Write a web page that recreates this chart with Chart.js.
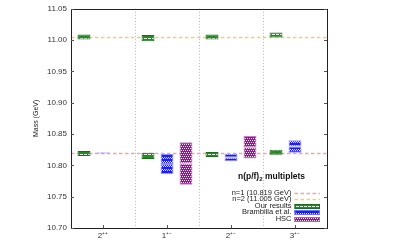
<!DOCTYPE html>
<html>
<head>
<meta charset="utf-8">
<script src="https://cdn.jsdelivr.net/npm/chart.js@4/dist/chart.umd.min.js"></script>
<style>
  html, body { margin: 0; padding: 0; background: #fff; }
  #wrap { width: 399px; height: 242px; }
</style>
</head>
<body>
<div id="wrap"><canvas id="massChart"></canvas></div>
<script>
// n(p/f)_2 multiplet masses (GeV): central value and half-width of each box
const categories = ["2⁺⁺", "1⁺⁻", "2⁺⁻", "3⁺⁻"];
const oursN1     = [10.819, 10.815, 10.8175, 10.821];
const oursN1Err  = [0.004, 0.005, 0.004, 0.004];
const oursN2     = [11.005, 11.003, 11.005, 11.008];
const oursN2Err  = [0.004, 0.005, 0.004, 0.004];
const brambilla    = [10.820, 10.802, 10.8125, 10.830];
const brambillaErr = [0.001, 0.016, 0.006, 0.010];
const hsc    = [null, 10.803, 10.829, null];
const hscErr = [null, 0.034, 0.018, null];
// spin-averaged reference masses (dashed lines)
const refMasses = [10.819, 11.005];
const refLabels = ["n=1 (10.819 GeV)", "n=2 (11.005 GeV)"];
const yTicks = [10.70, 10.75, 10.80, 10.85, 10.90, 10.95, 11.00, 11.05];

const FONT = "'Liberation Sans', Arial, sans-serif";
const GREEN = "#228b22", BLUE = "#1e1ef0", PURPLE = "#8b1a8b";
const REF_COLORS = ["#f4a3a3", "#f3cf6e"];

// small fill patterns (gnuplot-like hatching)
function makePattern(base, draw) {
  const c = document.createElement("canvas");
  c.width = 4; c.height = 4;
  const g = c.getContext("2d");
  g.fillStyle = base; g.fillRect(0, 0, 4, 4);
  g.fillStyle = "rgba(255,255,255,0.85)";
  draw(g);
  return g.createPattern(c, "repeat");
}
const cv = document.getElementById("massChart");
const greenFill = makePattern(GREEN, (g) => { g.fillRect(0, 2, 3, 1); });
const blueFill = makePattern(BLUE, (g) => {
  g.fillRect(0, 1, 1, 1); g.fillRect(1, 2, 1, 1); g.fillRect(2, 1, 1, 1); g.fillRect(3, 2, 1, 1);
});
const purpleFill = makePattern(PURPLE, (g) => {
  g.fillRect(0, 0, 1, 1); g.fillRect(2, 0, 1, 1); g.fillRect(1, 2, 1, 1); g.fillRect(3, 2, 1, 1);
});

// value ± error -> floating bar ranges
const fullBox = (v, e) => v.map((x, i) => (x === null ? null : [x - e[i], x + e[i]]));
const lowHalf = (v, e) => v.map((x, i) => (x === null ? null : [x - e[i], x]));
const highHalf = (v, e) => v.map((x, i) => (x === null ? null : [x, x + e[i]]));

function boxSet(data, stack, fill, border) {
  return {
    data: data, stack: stack,
    backgroundColor: fill, borderColor: border,
    borderWidth: 1, borderSkipped: false,
    categoryPercentage: 0.89, barPercentage: 0.68,
  };
}

const datasets = [
  boxSet(fullBox(oursN1, oursN1Err), "ours", greenFill, "#1b6d1b"),
  boxSet(fullBox(oursN2, oursN2Err), "ours", greenFill, "#1b6d1b"),
  boxSet(lowHalf(brambilla, brambillaErr), "bram", blueFill, "#8f8fff"),
  boxSet(highHalf(brambilla, brambillaErr), "bram", blueFill, "#8f8fff"),
  boxSet(lowHalf(hsc, hscErr), "hsc", purpleFill, "#c77ac7"),
  boxSet(highHalf(hsc, hscErr), "hsc", purpleFill, "#c77ac7"),
];

// legend entries (drawn inside the plot, right aligned like gnuplot)
const legendItems = [
  { text: refLabels[0], kind: "line", color: REF_COLORS[0] },
  { text: refLabels[1], kind: "line", color: REF_COLORS[1] },
  { text: "Our results", kind: "box", fill: greenFill, border: "#1b6d1b" },
  { text: "Brambilla et al.", kind: "box", fill: blueFill, border: "#6f6fff" },
  { text: "HSC", kind: "box", fill: purpleFill, border: "#b060b0" },
];

const decor = {
  id: "decor",
  beforeDatasetsDraw(chart) {
    const { ctx, chartArea: a, scales } = chart;
    ctx.save();
    ctx.lineWidth = 1.3;
    ctx.setLineDash([3.5, 2.5]);
    refMasses.forEach((m, i) => {
      const y = Math.round(scales.y.getPixelForValue(m)) + 0.5;
      ctx.strokeStyle = REF_COLORS[i];
      ctx.beginPath(); ctx.moveTo(a.left, y); ctx.lineTo(a.right, y); ctx.stroke();
    });
    ctx.restore();
  },
  afterDraw(chart) {
    const { ctx, chartArea: a, scales } = chart;
    ctx.save();
    // frame
    ctx.strokeStyle = "#222"; ctx.lineWidth = 1; ctx.setLineDash([]);
    ctx.strokeRect(Math.round(a.left) + 0.5, Math.round(a.top) + 0.5,
      Math.round(a.right - a.left), Math.round(a.bottom - a.top));
    // inward ticks
    ctx.strokeStyle = "#555";
    ctx.beginPath();
    yTicks.forEach((t) => {
      const y = Math.round(scales.y.getPixelForValue(t)) + 0.5;
      ctx.moveTo(a.left, y); ctx.lineTo(a.left + 3, y);
      ctx.moveTo(a.right, y); ctx.lineTo(a.right - 3, y);
    });
    categories.forEach((c, i) => {
      const x = Math.round(scales.x.getPixelForValue(i)) + 0.5;
      ctx.moveTo(x, a.bottom); ctx.lineTo(x, a.bottom - 3);
    });
    ctx.stroke();

    // legend
    const textRight = 291.5, sx0 = 294.5, sx1 = 320;
    ctx.fillStyle = "#111";
    ctx.textBaseline = "middle";
    ctx.textAlign = "left";
    const t1 = "n(p/f)", t2 = " multiplets";
    ctx.font = "bold 8.5px " + FONT;
    const w1 = ctx.measureText(t1).width;
    const w2 = ctx.measureText(t2).width;
    ctx.font = "bold 6px " + FONT;
    const ws = ctx.measureText("2").width;
    let tx = 271.5 - (w1 + ws + w2) / 2;
    const ty = 177;
    ctx.font = "bold 8.5px " + FONT;
    ctx.fillText(t1, tx, ty);
    ctx.font = "bold 6px " + FONT;
    ctx.fillText("2", tx + w1, ty + 2.5);
    ctx.font = "bold 8.5px " + FONT;
    ctx.fillText(t2, tx + w1 + ws, ty);

    ctx.font = "7.5px " + FONT;
    ctx.textAlign = "right";
    legendItems.forEach((it, i) => {
      const y = 192.5 + i * 6.5;
      ctx.fillStyle = "#222";
      ctx.fillText(it.text, textRight, y);
      if (it.kind === "line") {
        ctx.save();
        ctx.strokeStyle = it.color; ctx.lineWidth = 1.3; ctx.setLineDash([3.5, 2.5]);
        ctx.beginPath(); ctx.moveTo(sx0, Math.round(y) + 0.5); ctx.lineTo(sx1, Math.round(y) + 0.5); ctx.stroke();
        ctx.restore();
      } else {
        ctx.fillStyle = it.fill;
        ctx.fillRect(sx0, Math.round(y) - 2, sx1 - sx0, 5);
        ctx.strokeStyle = it.border; ctx.lineWidth = 1;
        ctx.strokeRect(sx0 + 0.5, Math.round(y) - 1.5, sx1 - sx0 - 1, 4);
      }
    });
    ctx.restore();
  },
};

new Chart(cv, {
  type: "bar",
  data: { labels: categories, datasets: datasets },
  plugins: [decor],
  options: {
    responsive: true,
    maintainAspectRatio: false,
    animation: false,
    layout: { padding: { left: 28, right: 72, top: 6, bottom: 0 } },
    plugins: { legend: { display: false }, tooltip: { enabled: false } },
    scales: {
      x: {
        offset: true,
        grid: { offset: true, color: "#b8b8b8", lineWidth: 1, drawTicks: false },
        border: { display: false, dash: [1, 2] },
        ticks: { color: "#333", font: { family: FONT, size: 8 }, padding: 3, maxRotation: 0 },
        afterFit(s) { s.height = 14; },
      },
      y: {
        stacked: false,
        min: 10.70, max: 11.05,
        grid: { display: false, drawTicks: false },
        border: { display: false },
        afterBuildTicks(s) { s.ticks = yTicks.map((v) => ({ value: v })); },
        ticks: {
          color: "#333", font: { family: FONT, size: 8 }, padding: 4,
          callback: (v) => Number(v).toFixed(2),
        },
        title: { display: true, text: "Mass (GeV)", color: "#222", font: { family: FONT, size: 7 } },
        afterFit(s) { s.width = 43; },
      },
    },
  },
});
</script>
</body>
</html>
